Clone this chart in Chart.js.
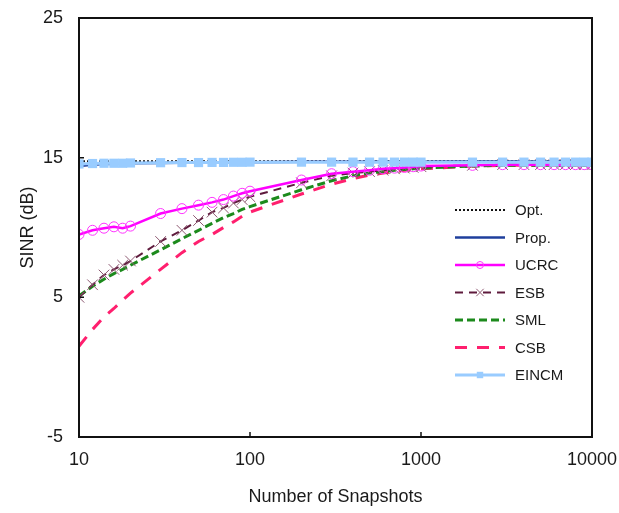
<!DOCTYPE html>
<html>
<head>
<meta charset="utf-8">
<script src="https://cdn.jsdelivr.net/npm/chart.js@4"></script>
<style>
  html, body { margin: 0; padding: 0; background: #fff; }
  #wrap { width: 619px; height: 513px; }
</style>
</head>
<body>
<div id="wrap"><canvas id="sinr-chart" width="619" height="513"></canvas></div>
<script>
// snapshot counts (x axis, log scale)
const snapshots = [10, 12, 14, 16, 18, 20, 30, 40, 50, 60, 70, 80, 90, 100,
    200, 300, 400, 500, 600, 700, 800, 900, 1000,
    2000, 3000, 4000, 5000, 6000, 7000, 8000, 9000, 10000];

// SINR values (dB)
const opt = [14.75, 14.75, 14.75, 14.75, 14.75, 14.75, 14.75, 14.75, 14.75, 14.75, 14.75, 14.75, 14.75, 14.75,
    14.75, 14.75, 14.75, 14.75, 14.75, 14.75, 14.75, 14.75, 14.75,
    14.75, 14.75, 14.75, 14.75, 14.75, 14.75, 14.75, 14.75, 14.75];
const prop = [14.4, 14.5, 14.55, 14.55, 14.6, 14.6, 14.62, 14.64, 14.65, 14.66, 14.67, 14.67, 14.68, 14.68,
    14.7, 14.7, 14.7, 14.7, 14.7, 14.7, 14.7, 14.7, 14.7,
    14.72, 14.72, 14.72, 14.72, 14.72, 14.72, 14.72, 14.72, 14.72];
const ucrc = [9.5, 9.8, 9.95, 10.05, 9.95, 10.1, 11.0, 11.35, 11.6, 11.8, 12.0, 12.25, 12.45, 12.6,
    13.4, 13.85, 14.0, 14.1, 14.2, 14.25, 14.3, 14.35, 14.4,
    14.45, 14.5, 14.5, 14.5, 14.5, 14.5, 14.5, 14.5, 14.5];
const esb = [5.0, 5.9, 6.6, 7.0, 7.3, 7.6, 9.0, 9.8, 10.5, 11.1, 11.4, 11.75, 12.0, 12.2,
    13.2, 13.7, 13.9, 14.0, 14.1, 14.2, 14.25, 14.3, 14.35,
    14.45, 14.5, 14.5, 14.5, 14.5, 14.5, 14.5, 14.5, 14.5];
const sml = [5.1, 5.8, 6.3, 6.7, 7.0, 7.3, 8.4, 9.2, 9.8, 10.3, 10.7, 11.0, 11.3, 11.5,
    12.7, 13.35, 13.7, 13.9, 14.0, 14.1, 14.15, 14.2, 14.25,
    14.4, 14.45, 14.45, 14.45, 14.45, 14.45, 14.45, 14.45, 14.45];
const csb = [1.5, 2.7, 3.6, 4.2, 4.8, 5.3, 7.0, 8.2, 9.0, 9.5, 10.0, 10.4, 10.8, 11.1,
    12.4, 13.1, 13.5, 13.75, 13.9, 14.0, 14.1, 14.15, 14.2,
    14.4, 14.45, 14.45, 14.45, 14.45, 14.45, 14.45, 14.45, 14.45];
const eincm = [14.55, 14.58, 14.6, 14.6, 14.6, 14.62, 14.64, 14.65, 14.65, 14.66, 14.66, 14.67, 14.67, 14.68,
    14.68, 14.68, 14.68, 14.68, 14.68, 14.68, 14.68, 14.68, 14.68,
    14.68, 14.68, 14.68, 14.68, 14.68, 14.68, 14.68, 14.68, 14.68];

const xTicks = [10, 100, 1000, 10000];
const yTicks = [-5, 5, 15, 25];

const FONT = "'Liberation Sans', Arial, sans-serif";

function pts(values) {
    return values.map((v, i) => ({ x: snapshots[i], y: v }));
}

// legend drawn inside the plot area, right side
const innerLegend = {
    id: 'innerLegend',
    afterDatasetsDraw(chart) {
        const ctx = chart.ctx;
        const area = chart.chartArea;
        const x0 = area.right - 137, x1 = area.right - 87, tx = area.right - 77;
        chart.data.datasets.forEach((ds, i) => {
            const y = 210 + i * 27.5;
            ctx.save();
            ctx.strokeStyle = ds.borderColor;
            ctx.lineWidth = ds.borderWidth;
            ctx.setLineDash(ds.borderDash || []);
            ctx.beginPath();
            ctx.moveTo(x0, y);
            ctx.lineTo(x1, y);
            ctx.stroke();
            ctx.setLineDash([]);
            if (ds.pointRadius > 0) {
                ctx.fillStyle = ds.pointBackgroundColor;
                ctx.strokeStyle = ds.pointBorderColor;
                ctx.lineWidth = ds.pointBorderWidth;
                Chart.helpers.drawPoint(ctx, {
                    pointStyle: ds.pointStyle,
                    radius: ds.pointRadius * 0.7,
                    rotation: 0,
                    borderWidth: ds.pointBorderWidth
                }, (x0 + x1) / 2, y);
            }
            ctx.fillStyle = '#1a1a1a';
            ctx.font = '15px ' + FONT;
            ctx.textBaseline = 'middle';
            ctx.fillText(ds.label, tx, y + 1);
            ctx.restore();
        });
    }
};

// frame and inward tick marks
const frame = {
    id: 'frame',
    afterDraw(chart) {
        const ctx = chart.ctx;
        const a = chart.chartArea;
        const xs = chart.scales.x, ys = chart.scales.y;
        ctx.save();
        ctx.strokeStyle = '#111';
        ctx.lineWidth = 2;
        ctx.strokeRect(a.left, a.top, a.right - a.left, a.bottom - a.top);
        ctx.lineWidth = 1.5;
        ctx.beginPath();
        [100, 1000].forEach(v => {
            const px = xs.getPixelForValue(v);
            ctx.moveTo(px, a.bottom);
            ctx.lineTo(px, a.bottom - 5);
        });
        [5, 15].forEach(v => {
            const py = ys.getPixelForValue(v);
            ctx.moveTo(a.left, py);
            ctx.lineTo(a.left + 5, py);
        });
        ctx.stroke();
        ctx.restore();
    }
};

const ctx = document.getElementById('sinr-chart');

new Chart(ctx, {
    type: 'line',
    data: {
        datasets: [{
            label: 'Opt.',
            data: pts(opt),
            borderColor: '#111111',
            borderWidth: 2,
            borderDash: [2, 2],
            pointRadius: 0,
            order: 2
        }, {
            label: 'Prop.',
            data: pts(prop),
            borderColor: '#1f3f9c',
            borderWidth: 2.5,
            pointRadius: 0,
            order: 1
        }, {
            label: 'UCRC',
            data: pts(ucrc),
            borderColor: '#ff00ff',
            borderWidth: 2.5,
            pointStyle: 'circle',
            pointRadius: 5,
            pointBorderWidth: 1,
            pointBorderColor: '#ff33ff',
            pointBackgroundColor: 'rgba(255,255,255,0)',
            order: 3
        }, {
            label: 'ESB',
            data: pts(esb),
            borderColor: '#5e1a3c',
            borderWidth: 2,
            borderDash: [8, 6],
            pointStyle: 'crossRot',
            pointRadius: 7.5,
            pointBorderWidth: 1,
            pointBorderColor: '#8e5a72',
            pointBackgroundColor: '#8e5a72',
            order: 4
        }, {
            label: 'SML',
            data: pts(sml),
            borderColor: '#1c8a1c',
            borderWidth: 3,
            borderDash: [8, 4],
            pointRadius: 0,
            order: 5
        }, {
            label: 'CSB',
            data: pts(csb),
            borderColor: '#ff1f6e',
            borderWidth: 3,
            borderDash: [12, 10],
            pointRadius: 0,
            order: 6
        }, {
            label: 'EINCM',
            data: pts(eincm),
            borderColor: '#99ccff',
            borderWidth: 3,
            pointStyle: 'rect',
            pointRadius: 6.5,
            pointBorderWidth: 0,
            pointBorderColor: '#99ccff',
            pointBackgroundColor: '#99ccff',
            order: 0
        }]
    },
    options: {
        responsive: false,
        animation: false,
        layout: { padding: { top: 18, right: 27, bottom: 5, left: 0 } },
        plugins: {
            legend: { display: false },
            tooltip: { enabled: false }
        },
        elements: { line: { tension: 0 } },
        scales: {
            x: {
                type: 'logarithmic',
                min: 10,
                max: 10000,
                afterBuildTicks: scale => {
                    scale.ticks = xTicks.map(v => ({ value: v }));
                },
                afterFit: scale => {
                    scale.height = 71;
                    scale.paddingLeft = 0;
                    scale.paddingRight = 0;
                },
                grid: { display: false, drawTicks: false },
                border: { display: false },
                ticks: {
                    padding: 12,
                    color: '#1a1a1a',
                    font: { family: FONT, size: 18 },
                    callback: v => String(v),
                    maxRotation: 0
                },
                title: {
                    display: true,
                    text: 'Number of Snapshots',
                    color: '#1a1a1a',
                    font: { family: FONT, size: 18 },
                    padding: { top: 0, bottom: 0 }
                }
            },
            y: {
                min: -5,
                max: 25,
                afterBuildTicks: scale => {
                    scale.ticks = yTicks.map(v => ({ value: v }));
                },
                afterFit: scale => {
                    scale.width = 79;
                    scale.paddingTop = 0;
                    scale.paddingBottom = 0;
                },
                grid: { display: false, drawTicks: false },
                border: { display: false },
                ticks: {
                    padding: 16,
                    color: '#1a1a1a',
                    font: { family: FONT, size: 18 }
                },
                title: {
                    display: true,
                    text: 'SINR (dB)',
                    color: '#1a1a1a',
                    font: { family: FONT, size: 18 },
                    padding: { top: 17, bottom: 0 }
                }
            }
        }
    },
    plugins: [innerLegend, frame]
});
</script>
</body>
</html>
